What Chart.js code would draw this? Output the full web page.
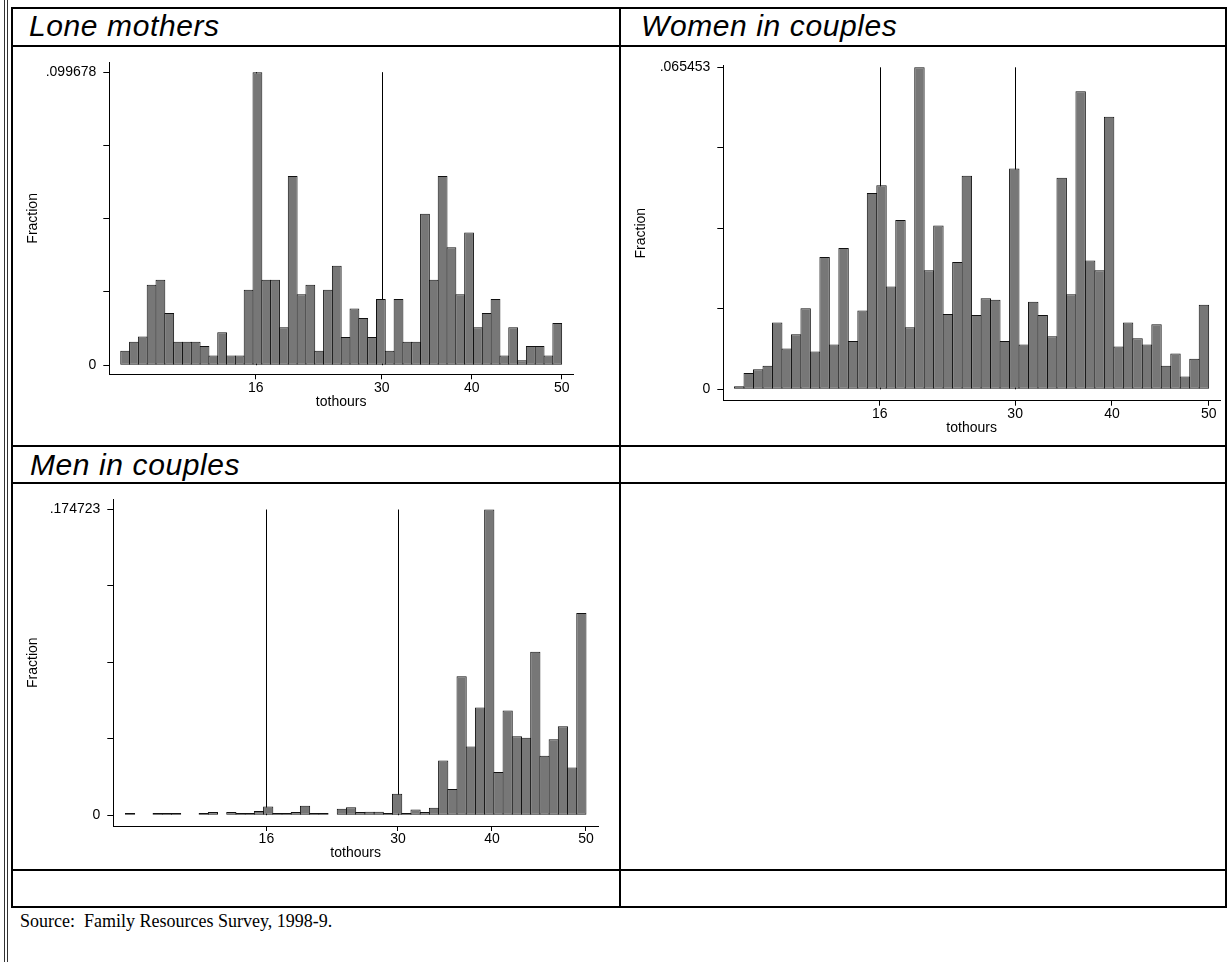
<!DOCTYPE html>
<html lang="en">
<head>
<meta charset="UTF-8" />
<title>Weekly hours – Family Resources Survey 1998-9</title>
<script src="https://cdn.jsdelivr.net/npm/chart.js"></script>
<style>
  body { margin: 0; background: #fff; }
  #page { position: relative; width: 1228px; height: 962px; overflow: hidden; font-family: Arial, "Liberation Sans", sans-serif; }
  .ln { position: absolute; background: #000; }
  .margin-ln { position: absolute; top: 0; width: 1px; height: 962px; background: #333; }
  .title { position: absolute; font-style: italic; font-size: 30px; line-height: 30px; letter-spacing: 0.6px; color: #000; white-space: nowrap; }
  canvas { position: absolute; }
  .source { position: absolute; font-family: "Times New Roman", "Liberation Serif", serif; font-size: 18px; line-height: 18px; white-space: pre; }
</style>
</head>
<body>
<div id="page">
  <!-- page margin rule -->
  <div class="margin-ln" style="left:4px"></div>
  <div class="margin-ln" style="left:7px"></div>

  <!-- table grid -->
  <div class="ln" style="left:11px; top:7px; width:1216px; height:2px"></div>
  <div class="ln" style="left:11px; top:45px; width:1216px; height:2px"></div>
  <div class="ln" style="left:11px; top:445px; width:1216px; height:2px"></div>
  <div class="ln" style="left:11px; top:482px; width:1216px; height:2px"></div>
  <div class="ln" style="left:11px; top:869px; width:1216px; height:2px"></div>
  <div class="ln" style="left:11px; top:906px; width:1216px; height:2px"></div>
  <div class="ln" style="left:11px; top:7px; width:2px; height:901px"></div>
  <div class="ln" style="left:619px; top:7px; width:2px; height:901px"></div>
  <div class="ln" style="left:1225px; top:7px; width:2px; height:901px"></div>

  <div class="title" style="left:29px; top:10.6px">Lone mothers</div>
  <div class="title" style="left:641px; top:10.6px">Women in couples</div>
  <div class="title" style="left:30px; top:449.6px">Men in couples</div>

  <canvas id="loneChart" width="606" height="398" style="left:13px; top:47px"></canvas>
  <canvas id="womenChart" width="604" height="398" style="left:621px; top:47px"></canvas>
  <canvas id="menChart" width="606" height="385" style="left:13px; top:484px"></canvas>

  <div class="source" style="left:20px; top:912px">Source:  Family Resources Survey, 1998-9.</div>
</div>

<script>
  // histogram bins: 50 bins of 0.98 hours starting at 1 hour
  const binStart = 1;
  const binWidth = 0.98;
  const hourTicks = [16, 30, 40, 50];
  const markLines = [16, 30];

  // fraction in each bin
  const loneMothers = [0.0049, 0.0080, 0.0098, 0.0274, 0.0291, 0.0178, 0.0080, 0.0080, 0.0080, 0.0065,
                       0.0033, 0.0112, 0.0033, 0.0033, 0.0257, 0.099678, 0.0291, 0.0291, 0.0129, 0.0644,
                       0.0241, 0.0274, 0.0049, 0.0257, 0.0338, 0.0096, 0.0193, 0.0161, 0.0096, 0.0225,
                       0.0049, 0.0225, 0.0080, 0.0080, 0.0515, 0.0291, 0.0644, 0.0401, 0.0241, 0.0451,
                       0.0129, 0.0178, 0.0225, 0.0033, 0.0129, 0.0017, 0.0065, 0.0065, 0.0033, 0.0144];

  const womenCouples = [0.0006, 0.0033, 0.0041, 0.0048, 0.0136, 0.0083, 0.0112, 0.0165, 0.0077, 0.0269,
                        0.0091, 0.0287, 0.0098, 0.0160, 0.0399, 0.0415, 0.0209, 0.0344, 0.0126, 0.065453,
                        0.0242, 0.0333, 0.0153, 0.0259, 0.0434, 0.0151, 0.0185, 0.0182, 0.0098, 0.0449,
                        0.0091, 0.0178, 0.0151, 0.0108, 0.0430, 0.0193, 0.0606, 0.0262, 0.0242, 0.0554,
                        0.0087, 0.0136, 0.0104, 0.0091, 0.0132, 0.0048, 0.0073, 0.0026, 0.0062, 0.0172];

  const menCouples = [0.0012, null, null, 0.0012, 0.0012, 0.0012, null, null, 0.0012, 0.0018,
                      null, 0.0018, 0.0012, 0.0012, 0.0024, 0.0050, 0.0012, 0.0012, 0.0018, 0.0054,
                      0.0012, 0.0012, null, 0.0037, 0.0045, 0.0018, 0.0020, 0.0020, 0.0012, 0.0123,
                      0.0012, 0.0032, 0.0019, 0.0043, 0.0312, 0.0150, 0.0794, 0.0392, 0.0615, 0.174723,
                      0.0247, 0.0598, 0.0452, 0.0443, 0.0934, 0.0340, 0.0434, 0.0508, 0.0273, 0.1155];

  const topLone = 0.099678;
  const topWomen = 0.065453;
  const topMen = 0.174723;

  Chart.defaults.font.family = 'Arial, "Liberation Sans", sans-serif';
  Chart.defaults.font.size = 14;
  Chart.defaults.color = '#000';

  // Stata style: label 0 and max only, without leading zero
  const fmt = v => v === 0 ? '0' : v.toFixed(6).replace(/^0/, '');

  // xline(16 30), drawn behind the bars
  const xlinePlugin = {
    id: 'xlines',
    beforeDatasetsDraw(chart, args, opts) {
      const { ctx, scales: { x, y } } = chart;
      ctx.save();
      ctx.strokeStyle = '#000';
      ctx.lineWidth = 1;
      opts.at.forEach(v => {
        const px = Math.round(x.getPixelForValue(v)) + 0.5;
        ctx.beginPath();
        ctx.moveTo(px, y.getPixelForValue(opts.top));
        ctx.lineTo(px, y.getPixelForValue(0));
        ctx.stroke();
      });
      ctx.restore();
    }
  };

  function histogram(id, values, top, box) {
    const points = values.map((v, i) => ({ x: binStart + binWidth * (i + 0.5), y: v }));
    return new Chart(document.getElementById(id), {
      type: 'bar',
      data: {
        datasets: [{
          data: points,
          backgroundColor: '#777777',
          borderColor: '#111111',
          borderWidth: 1,
          borderSkipped: false,
          barPercentage: box.overlap,
          categoryPercentage: 1
        }]
      },
      options: {
        responsive: false,
        animation: false,
        devicePixelRatio: 1,
        layout: { padding: { left: 0, top: box.top, right: box.right, bottom: 0 } },
        plugins: {
          legend: { display: false },
          tooltip: { enabled: false },
          xlines: { at: markLines, top: top }
        },
        scales: {
          x: {
            type: 'linear',
            offset: false,
            min: box.xmin,
            max: box.xmax,
            afterFit: s => { s.height = box.xh; },
            afterBuildTicks: s => { s.ticks = hourTicks.map(v => ({ value: v })); },
            grid: { display: true, offset: false, drawOnChartArea: false, drawTicks: true, tickLength: 5, color: '#000' },
            border: { display: true, color: '#000', width: 1 },
            ticks: { padding: 0, autoSkip: false, maxRotation: 0, color: '#000' },
            title: { display: true, text: 'tothours', color: '#000', padding: { top: 0, bottom: box.titleB } }
          },
          y: {
            min: box.ymin,
            max: box.ymax,
            afterFit: s => { s.width = box.yw; },
            afterBuildTicks: s => { s.ticks = [0, 1, 2, 3, 4].map(k => ({ value: top * k / 4 })); },
            grid: { display: true, drawOnChartArea: false, drawTicks: true, tickLength: 6, color: '#000' },
            border: { display: true, color: '#000', width: 1 },
            ticks: { padding: 7, autoSkip: false, color: '#000',
                     callback: (v, i) => (i === 0 || i === 4) ? fmt(v) : '' },
            title: { display: true, text: 'Fraction', color: '#000', padding: { top: 11.6, bottom: 0 } }
          }
        }
      },
      plugins: [xlinePlugin]
    });
  }

  histogram('loneChart', loneMothers, topLone, {
    yw: 96.3, top: 8, right: 46, xh: 70.7, titleB: 34.9, overlap: 1.11,
    xmin: -0.27, xmax: 51.26, ymin: -0.00309, ymax: 0.10300
  });
  histogram('womenChart', womenCouples, topWomen, {
    yw: 102.3, top: 18.7, right: 5, xh: 44.3, titleB: 8.5, overlap: 1.1,
    xmin: -0.16, xmax: 51.17, ymin: -0.002317, ymax: 0.065778
  });
  histogram('menChart', menCouples, topMen, {
    yw: 100.3, top: 9, right: 21, xh: 43, titleB: 7.2, overlap: 1.11,
    xmin: -0.29, xmax: 51.28, ymin: -0.006166, ymax: 0.180497
  });
</script>
</body>
</html>
